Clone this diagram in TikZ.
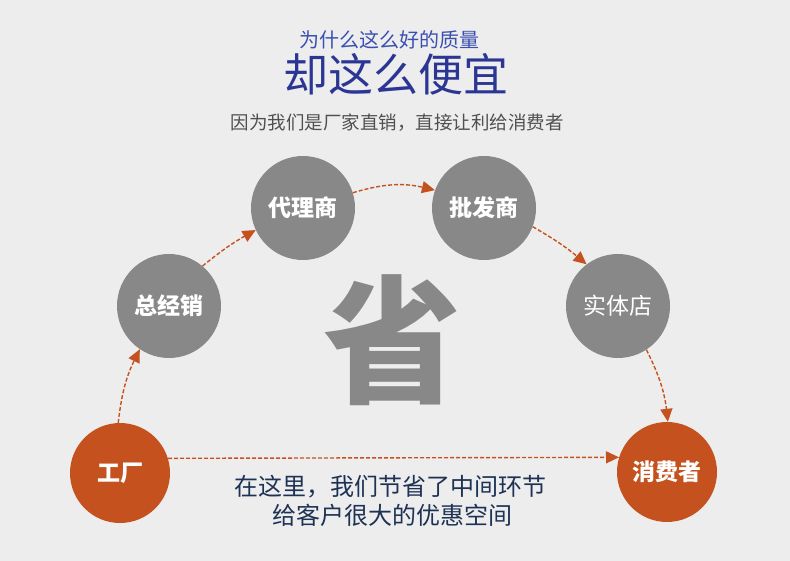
\documentclass[tikz,border=0pt]{standalone}
\usepackage{fontspec}
\setmainfont{Noto Sans CJK SC}
\newfontfamily\cjk{Noto Sans CJK SC}
\usetikzlibrary{arrows.meta}
\definecolor{bgray}{RGB}{237,237,237}
\definecolor{cgray}{RGB}{136,136,136}
\definecolor{corange}{RGB}{197,82,30}
\definecolor{tblue}{RGB}{58,80,176}
\definecolor{tdark}{RGB}{43,54,148}
\definecolor{tnavy}{RGB}{30,50,84}
\definecolor{ttext}{RGB}{80,80,80}
\begin{document}
\begin{tikzpicture}[x=1pt,y=-1pt,
	stage/.style={circle,fill=cgray,minimum size=104pt,inner sep=0pt,text=white,
		font=\cjk\bfseries\fontsize{23}{23}\selectfont},
	endstage/.style={stage,fill=corange,minimum size=100pt},
	flow/.style={corange,line width=1.4pt,dash pattern=on 4pt off 2pt,
		-{Triangle[length=13pt,width=12pt]}}]
	\useasboundingbox[fill=bgray] (0,0) rectangle (790,561);

	% Titles
	\node[text=tblue,font=\cjk\fontsize{20}{20}\selectfont] (ask) at (389,40) {为什么这么好的质量};
	\node[text=tdark,font=\cjk\fontsize{45}{45}\selectfont] (cheap) at (396,74) {却这么便宜};
	\node[text=ttext,font=\cjk\fontsize{18.5}{18.5}\selectfont] (why) at (397,123) {因为我们是厂家直销，直接让利给消费者};

	% Big character
	\node[text=cgray,font=\cjk\bfseries\fontsize{138}{138}\selectfont] (sheng) at (392,340) {省};

	% Stages
	\node[endstage] (factory) at (120,473) {工厂};
	\node[stage] (dealer) at (169,306) {总经销};
	\node[stage] (agent) at (303,208) {代理商};
	\node[stage] (whole) at (484,208) {批发商};
	\node[stage,font=\cjk\fontsize{23}{23}\selectfont] (shop) at (618,306) {实体店};
	\node[endstage] (buyer) at (667,472) {消费者};

	% Long way round
	\draw[flow] (factory.92) to[bend left=10] (dealer.236);
	\draw[flow] (dealer.50) to[bend left=5] (agent.205);
	\draw[flow] (agent.17) to[bend left=15] (whole.160);
	\draw[flow] (whole.339) to[bend left=5] (shop.127);
	\draw[flow] (shop.303) to[bend left=10] (buyer.89);

	% Short way
	\draw[flow] (factory.17) -- (buyer.163);

	% Saving text
	\node[text=tnavy,font=\cjk\fontsize{24}{24}\selectfont] (save) at (390,487) {在这里，我们节省了中间环节};
	\node[text=tnavy,font=\cjk\fontsize{24}{24}\selectfont] (space) at (392,515) {给客户很大的优惠空间};

\end{tikzpicture}
\end{document}
